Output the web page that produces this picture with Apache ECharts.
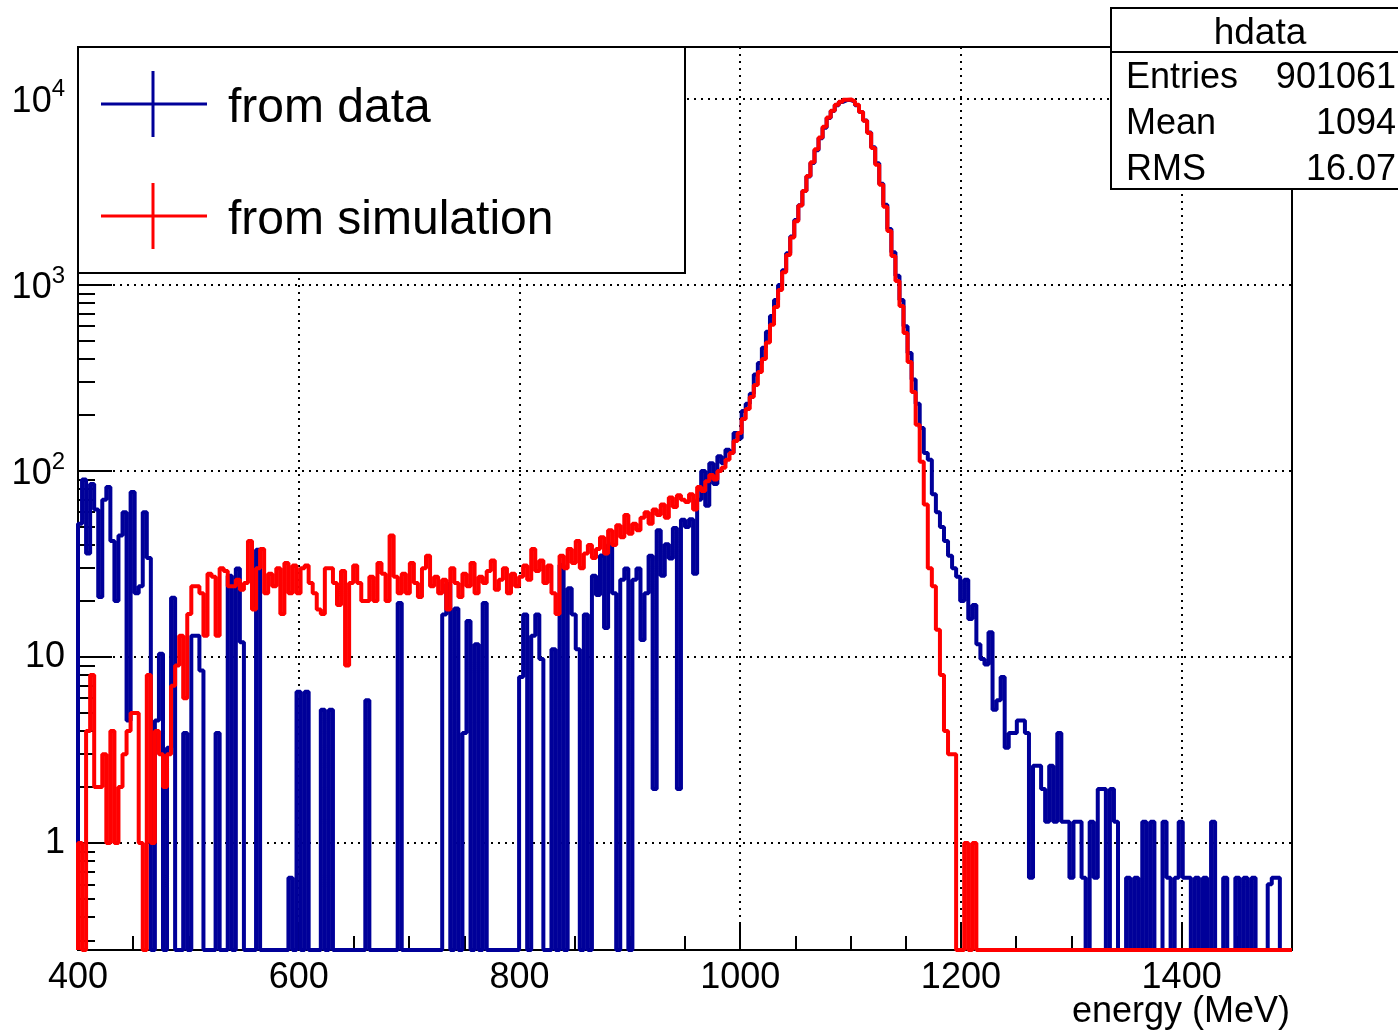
<!DOCTYPE html>
<html>
<head>
<meta charset="utf-8">
<script src="https://cdn.jsdelivr.net/npm/echarts@6/dist/echarts.min.js"></script>
<style>html,body{margin:0;padding:0;background:#fff;}#c{width:1398px;height:1033px;}</style>
</head>
<body>
<div id="c"></div>
<script>
// ---- histogram definition ----
const X_MIN = 400, X_MAX = 1500, N_BINS = 300;
const Y_MIN = 0.266, Y_MAX = 19000;
const X_MAJOR_STEP = 200, X_MINOR_STEP = 50;
const Y_MAJOR_TICKS = [1, 10, 100, 1000, 10000];
const Y_MINOR_TICKS = [0.3,0.4,0.5,0.6,0.7,0.8,0.9, 2,3,4,5,6,7,8,9, 20,30,40,50,60,70,80,90,
  200,300,400,500,600,700,800,900, 2000,3000,4000,5000,6000,7000,8000,9000];
const SERIES_NAMES = ['from data', 'from simulation'];
const X_TITLE = 'energy (MeV)';
const STATS_TITLE = 'hdata';
const STATS_LABELS = ['Entries', 'Mean', 'RMS'];
const STATS_VALUES = ['901061', '1094', '16.07'];

// counts per bin, "from data"
const dataValues = [
  52,90,36,85,62,21,70,82,42,20,
  45,60,4.55,77,22,24,60,34,0,4.55,
  10.4,0,3.25,20.8,0,0,3.9,0,13,13,
  8.45,0,0,0,3.9,0,0,27.3,0,29.9,
  12,0,0,0,37.7,0,0,0,0,0,
  0,0,0.65,0,6.5,0,6.5,0,0,0,
  5.2,0,5.2,0,0,0,0,0,0,0,
  0,5.85,0,0,0,0,0,0,0,19.5,
  0,0,0,0,0,0,0,0,0,0,
  16.9,24.7,0,18.2,0,3.9,15.6,0,11.7,0,
  19.5,0,0,0,0,0,0,0,0,7.8,
  16.9,0,13,16.9,9.75,0,0,11,0,31.2,
  0,23.4,16.9,11,0,16.9,0,27.3,21.5,35.1,
  14.3,40.3,22,0,26,29.9,0,26,29.9,12.35,
  22,35,1.95,48,27.3,40.3,33.8,49.4,1.95,54.6,
  50,55,28,70,100,65,110,85,120,110,
  130,125,160,150,210,230,260,330,380,460,
  560,680,830,1000,1200,1480,1820,2230,2680,3200,
  3830,4520,5300,6150,7000,7880,8600,9250,9620,9850,
  9850,9650,9250,8500,7650,6600,5500,4500,3500,2700,
  2000,1500,1120,830,600,430,310,230,170,125,
  115,75,60,50,42,35,30,27,20,26,
  16,19,11.7,9.75,9.1,13.6,5.2,5.85,7.8,3.25,
  3.9,3.9,4.55,4.55,3.9,0.65,2.6,2.6,1.95,1.3,
  2.6,1.3,3.9,1.3,1.3,0.65,1.3,1.3,0.65,0,
  1.3,0.65,1.95,1.95,0,1.95,1.3,0,0,0.65,
  0,0.65,0,1.3,0,1.3,0,0,1.3,0.65,
  0,0.65,1.3,0.65,0.65,0,0.65,0,0.65,0,
  1.3,0,0,0.65,0,0,0.65,0,0.65,0,
  0.65,0,0,0,0.6,0.65,0.65,0,0,0
];

// counts per bin, "from simulation"
const simValues = [
  1,0,4,8,2,2,3,1,4,1,
  2,3,4,5,5,1,0,8,1,4,
  3,2,3,7,9,13,6,17,24,24,
  22,13,28,27,13,30,29,24,24,26,
  23,25,42,18,30,38,22,28,24,30,
  17,32,22,31,22,30,31,25,22,18,
  17,30,30,25,19,29,9,25,31,25,
  20,20,27,20,32,28,20,45,27,22,
  28,22,32,25,21,30,35,24,27,22,
  26,18,30,25,21,28,24,32,22,27,
  25,29,33,23,26,30,22,28,24,27,
  31,26,38,29,33,25,31,22,17,35,
  30,38,32,42,30,36,40,34,38,44,
  36,48,40,51,44,58,46,52,48,56,
  60,52,62,58,66,56,72,64,74,70,
  68,75,62,82,78,88,95,90,100,104,
  115,125,145,160,190,215,250,290,340,400,
  490,610,760,940,1170,1450,1800,2200,2670,3200,
  3850,4560,5360,6200,7070,7930,8640,9290,9650,9900,
  9930,9700,9290,8510,7620,6560,5450,4420,3450,2630,
  1950,1430,1050,771,552,385,266,177,112,66,
  30,24,14,8,4,3,3,0,0,1,
  0,1,0,0,0,0,0,0,0,0,
  0,0,0,0,0,0,0,0,0,0,
  0,0,0,0,0,0,0,0,0,0,
  0,0,0,0,0,0,0,0,0,0,
  0,0,0,0,0,0,0,0,0,0,
  0,0,0,0,0,0,0,0,0,0,
  0,0,0,0,0,0,0,0,0,0,
  0,0,0,0,0,0,0,0,0,0
];

const COLORS = ['#000099', '#ff0000'];
const FONT = '"Liberation Sans", Arial, Helvetica, sans-serif';

function binEdge(i) { return X_MIN + i * (X_MAX - X_MIN) / N_BINS; }
function toStepData(vals) {
  const clamp = v => (v > 0 ? v : Y_MIN);
  const pts = [[X_MIN, Y_MIN]];
  vals.forEach((v, i) => pts.push([binEdge(i), clamp(v)]));
  pts.push([X_MAX, clamp(vals[vals.length - 1])]);
  pts.push([X_MAX, Y_MIN]);
  return pts;
}

const chart = echarts.init(document.getElementById('c'), null, {renderer: 'canvas'});

const dotted = {color: '#000', width: 2, type: [2, 5]};

const legendX = 78, legendY = 47, legendW = 607, legendH = 226;
const statsX = 1111, statsY = 8;

const graphic = [
  {type: 'rect', z: 100, shape: {x: legendX, y: legendY, width: legendW, height: legendH},
   style: {fill: '#fff', stroke: '#000', lineWidth: 2}},
];
[104, 216].forEach((cy, k) => {
  graphic.push({type: 'line', z: 101, shape: {x1: 101, y1: cy, x2: 207, y2: cy}, style: {stroke: COLORS[k], lineWidth: 3}});
  graphic.push({type: 'line', z: 101, shape: {x1: 153, y1: cy - 33, x2: 153, y2: cy + 33}, style: {stroke: COLORS[k], lineWidth: 3}});
  graphic.push({type: 'text', z: 101, style: {x: 228, y: cy + 5, text: SERIES_NAMES[k], fill: '#000',
    font: '48px ' + FONT, textAlign: 'left', textVerticalAlign: 'middle', align: 'left', verticalAlign: 'middle'}});
});
graphic.push({type: 'rect', z: 100, shape: {x: statsX, y: statsY, width: 300, height: 181},
  style: {fill: '#fff', stroke: '#000', lineWidth: 2}});
graphic.push({type: 'line', z: 101, shape: {x1: statsX, y1: 52, x2: 1398, y2: 52}, style: {stroke: '#000', lineWidth: 2}});
graphic.push({type: 'text', z: 101, style: {x: 1260, y: 34, text: STATS_TITLE, fill: '#000', font: '37px ' + FONT,
  textAlign: 'center', textVerticalAlign: 'middle', align: 'center', verticalAlign: 'middle'}});
STATS_LABELS.forEach((lab, k) => {
  const cy = 78 + k * 46;
  graphic.push({type: 'text', z: 101, style: {x: 1126, y: cy, text: lab, fill: '#000', font: '36px ' + FONT,
    textAlign: 'left', textVerticalAlign: 'middle', align: 'left', verticalAlign: 'middle'}});
  graphic.push({type: 'text', z: 101, style: {x: 1396, y: cy, text: STATS_VALUES[k], fill: '#000', font: '36px ' + FONT,
    textAlign: 'right', textVerticalAlign: 'middle', align: 'right', verticalAlign: 'middle'}});
});
// x-axis title, right-aligned under the frame's right end (ROOT style)
graphic.push({type: 'text', z: 101, style: {x: 1290, y: 1012, text: X_TITLE, fill: '#000', font: '36px ' + FONT,
  textAlign: 'right', textVerticalAlign: 'middle', align: 'right', verticalAlign: 'middle'}});

const option = {
  animation: false,
  backgroundColor: '#fff',
  grid: {left: 78, top: 47, right: 106, bottom: 83, show: true, borderColor: '#000', borderWidth: 2,
    backgroundColor: 'transparent', containLabel: false, outerBoundsMode: 'none'},
  xAxis: [{
    type: 'value', min: X_MIN, max: X_MAX, interval: X_MAJOR_STEP,
    axisLine: {show: true, lineStyle: {color: '#000', width: 2}},
    axisTick: {show: true, inside: true, length: 28, lineStyle: {color: '#000', width: 2}},
    axisLabel: {show: true, color: '#000', fontSize: 36, fontFamily: FONT, margin: 10, showMaxLabel: false,
      formatter: v => String(v)},
    splitLine: {show: true, lineStyle: dotted}
  }, {
    type: 'value', min: X_MIN, max: X_MAX, interval: X_MINOR_STEP, position: 'bottom',
    axisLine: {show: false}, axisLabel: {show: false}, splitLine: {show: false},
    axisTick: {show: true, inside: true, length: 14, lineStyle: {color: '#000', width: 2}}
  }],
  yAxis: [{
    type: 'log', logBase: 10, min: Y_MIN, max: Y_MAX,
    axisLine: {show: true, lineStyle: {color: '#000', width: 2}},
    axisTick: {show: true, inside: true, length: 34, customValues: Y_MAJOR_TICKS, lineStyle: {color: '#000', width: 2}},
    axisLabel: {
      show: true, color: '#000', fontSize: 36, fontFamily: FONT, margin: 13, customValues: Y_MAJOR_TICKS,
      formatter: function (v) {
        const e = Math.round(Math.log10(v));
        if (Math.abs(Math.log10(v) - e) > 1e-6) return '';
        if (e === 0) return '1';
        if (e === 1) return '10';
        return '{b|10}{s|' + e + '}';
      },
      rich: {
        b: {fontSize: 36, fontFamily: FONT, color: '#000', lineHeight: 42, verticalAlign: 'bottom'},
        s: {fontSize: 24, fontFamily: FONT, color: '#000', lineHeight: 24, verticalAlign: 'top'}
      }
    },
    splitLine: {show: true, lineStyle: dotted}
  }, {
    type: 'log', logBase: 10, min: Y_MIN, max: Y_MAX, position: 'left',
    axisLine: {show: false}, axisLabel: {show: false}, splitLine: {show: false},
    axisTick: {show: true, inside: true, length: 17, customValues: Y_MINOR_TICKS, lineStyle: {color: '#000', width: 2}}
  }],
  series: [{
    type: 'line', name: SERIES_NAMES[0], step: 'end', data: toStepData(dataValues),
    showSymbol: false, symbol: 'none', clip: false, color: COLORS[0],
    lineStyle: {color: COLORS[0], width: 4}, z: 3
  }, {
    type: 'line', name: SERIES_NAMES[1], step: 'end', data: toStepData(simValues),
    showSymbol: false, symbol: 'none', clip: false, color: COLORS[1],
    lineStyle: {color: COLORS[1], width: 4}, z: 4
  }],
  graphic: graphic
};
chart.setOption(option);
</script>
</body>
</html>
